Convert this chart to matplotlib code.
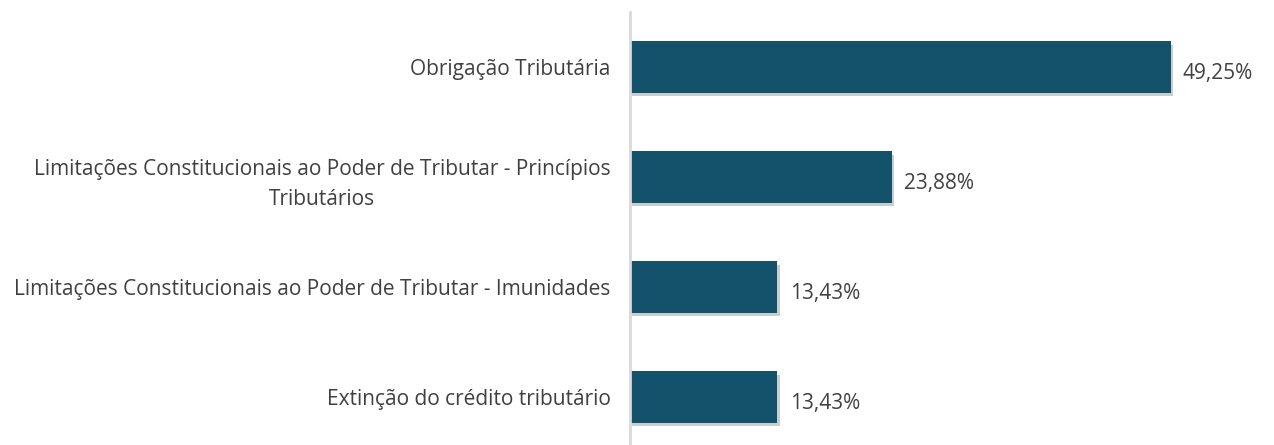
import matplotlib.pyplot as plt
import matplotlib.patheffects as pe

# data (top to bottom)
categories = [
    "Obrigação Tributária",
    "Limitações Constitucionais ao Poder de Tributar - Princípios\nTributários",
    "Limitações Constitucionais ao Poder de Tributar - Imunidades",
    "Extinção do crédito tributário",
]
values = [49.25, 23.88, 13.43, 13.43]
value_labels = ["49,25%", "23,88%", "13,43%", "13,43%"]

plt.rcParams['font.family'] = ['Open Sans', 'DejaVu Sans']

fig = plt.figure(figsize=(12.74, 4.45), dpi=100)
ax = fig.add_axes([0.4945, 0.0, 0.5, 0.973])

y = list(range(len(categories)))
bars = ax.barh(y, values, height=0.47, color="#14526B")
for b in bars:
    b.set_path_effects([pe.SimplePatchShadow(offset=(1.5, -2.5), alpha=0.22, rho=0.4),
                        pe.Normal()])

ax.set_ylim(3.436, -0.5)
ax.set_xlim(0, 58)

for yi, v, lab in zip(y, values, value_labels):
    ax.text(v + 1.1, yi + 0.06, lab, va="center", ha="left",
            fontsize=15, color="#404040")

ax.set_yticks(y)
ax.set_yticklabels(categories, fontsize=15, color="#404040",
                   multialignment="center", linespacing=1.6)
ax.tick_params(axis="y", length=0, pad=14)
ax.set_xticks([])

for s in ["top", "right", "bottom"]:
    ax.spines[s].set_visible(False)
ax.spines["left"].set_color("#D9D9D9")
ax.spines["left"].set_linewidth(2)

fig.savefig("out.png", dpi=100)
